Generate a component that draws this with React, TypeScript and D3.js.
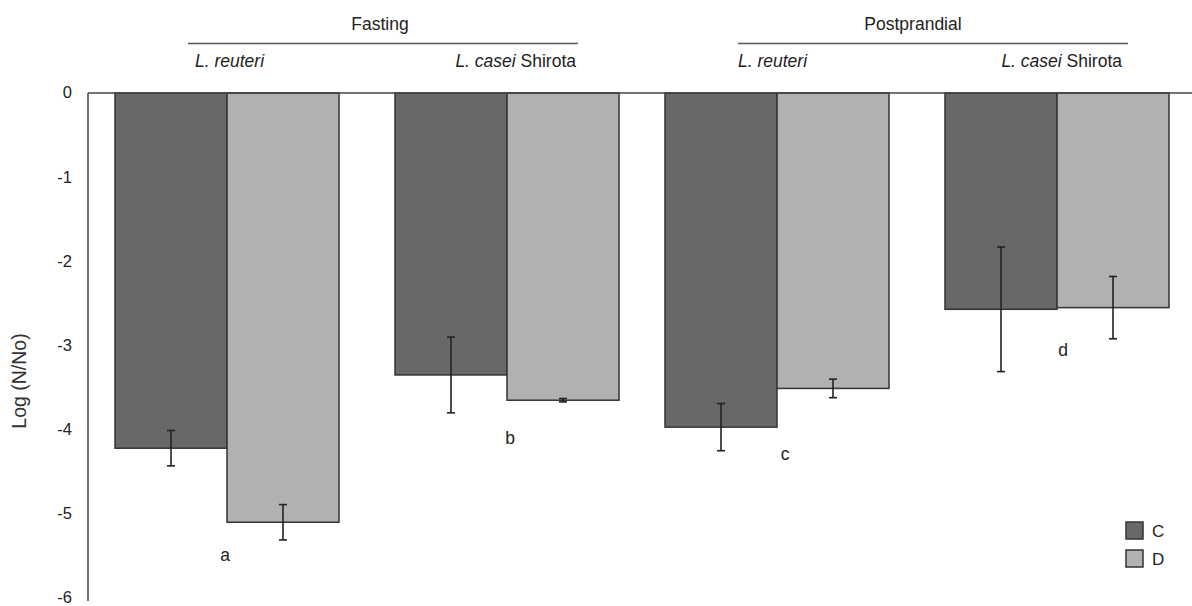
import React from "react";
import * as d3 from "d3";

const periods = ["Fasting", "Postprandial"];
const strains = ["L. reuteri", "L. casei Shirota"];
const seriesNames = ["C", "D"];
// order: Fasting-reuteri, Fasting-casei, Postprandial-reuteri, Postprandial-casei
const valuesC = [-4.22, -3.35, -3.97, -2.57];
const valuesD = [-5.1, -3.65, -3.51, -2.55];
const errC = [0.21, 0.45, 0.28, 0.74];
const errD = [0.21, 0.02, 0.11, 0.37];
const letters = ["a", "b", "c", "d"];
const letterY = [-5.49, -4.09, -4.29, -3.05];
const yTicks = [0, -1, -2, -3, -4, -5, -6];

const W = 1192;
const H = 606;
const colors = ["#686868", "#b1b1b1"];
const stroke = "#333";
const font = "'Liberation Sans', Arial, sans-serif";

export default function App() {
  const x0 = 88;
  const yTop = 93;
  const y = d3.scaleLinear().domain([0, -6]).range([yTop, 598]);
  const xp = d3.scaleBand<string>().domain(periods).range([x0, 1196]).paddingInner(46 / 550).paddingOuter(27 / 550);
  const xg = d3.scaleBand<string>().domain(strains).range([0, xp.bandwidth()]).paddingInner(0.2).paddingOuter(0);
  const xs = d3.scaleBand<string>().domain(seriesNames).range([0, xg.bandwidth()]);
  const series = [
    { name: "C", vals: valuesC, errs: errC },
    { name: "D", vals: valuesD, errs: errD },
  ];
  const cats: { p: string; s: string; i: number; x: number }[] = [];
  periods.forEach((p, pi) =>
    strains.forEach((s, si) => {
      cats.push({ p, s, i: pi * 2 + si, x: (xp(p) as number) + (xg(s) as number) });
    })
  );
  const headerDx = [-3, -20];
  const letterDx = [-2, 3, 8, 6];
  const subLeftDx = [80, 73];
  const subRightDx = [43, 47];
  return (
    <svg width={W} height={H} style={{ position: "absolute", left: 0, top: 0, background: "#fff" }} fontFamily={font}>
      <rect x={0} y={0} width={W} height={H} fill="#fff" />
      {series.map((s, si) =>
        cats.map((c) => {
          const bx = c.x + (xs(s.name) as number);
          return (
            <rect key={s.name + c.i} x={bx} y={y(0)} width={xs.bandwidth()} height={y(s.vals[c.i]) - y(0)}
              fill={colors[si]} stroke={stroke} strokeWidth={1.5} />
          );
        })
      )}
      {series.map((s) =>
        cats.map((c) => {
          const cx = c.x + (xs(s.name) as number) + xs.bandwidth() / 2;
          const y1 = y(s.vals[c.i] + s.errs[c.i]);
          const y2 = y(s.vals[c.i] - s.errs[c.i]);
          return (
            <g key={"e" + s.name + c.i} stroke="#222" strokeWidth={1.6}>
              <line x1={cx} x2={cx} y1={y1} y2={y2} />
              <line x1={cx - 4} x2={cx + 4} y1={y1} y2={y1} />
              <line x1={cx - 4} x2={cx + 4} y1={y2} y2={y2} />
            </g>
          );
        })
      )}
      <line x1={x0} x2={W} y1={yTop} y2={yTop} stroke="#444" strokeWidth={1.5} />
      <line x1={x0} x2={x0} y1={yTop} y2={601} stroke="#444" strokeWidth={1.5} />
      {yTicks.map((t) => (
        <text key={t} x={72} y={y(t)} dy="0.33em" textAnchor="end" fontSize={16.5} fill="#222">
          {t}
        </text>
      ))}
      <text transform={`translate(26,${381}) rotate(-90)`} textAnchor="middle" fontSize={19.5} fill="#333">
        Log (N/No)
      </text>
      {cats.map((c) => (
        <text key={"l" + c.i} x={c.x + xg.bandwidth() / 2 + letterDx[c.i]} y={y(letterY[c.i])} dy="0.36em" textAnchor="middle" fontSize={17.5} fill="#222">
          {letters[c.i]}
        </text>
      ))}
      {periods.map((p, pi) => {
        const a = xp(p) as number;
        const b = a + xp.bandwidth();
        const l1 = a + 73;
        const l2 = b - 41;
        return (
          <g key={p}>
            <line x1={l1} x2={l2} y1={43.5} y2={43.5} stroke="#555" strokeWidth={1.6} />
            <text x={(l1 + l2) / 2 + headerDx[pi]} y={30} textAnchor="middle" fontSize={17.5} fill="#222">
              {p}
            </text>
          </g>
        );
      })}
      {cats.map((c) => {
        const pi = periods.indexOf(c.p);
        return c.s === strains[0] ? (
          <text key={"s" + c.i} x={c.x + subLeftDx[pi]} y={67} fontSize={17.5} fill="#222" fontStyle="italic">
            {c.s}
          </text>
        ) : (
          <text key={"s" + c.i} x={c.x + xg.bandwidth() - subRightDx[pi]} y={67} fontSize={17.5} fill="#222" textAnchor="end">
            <tspan fontStyle="italic">L. casei</tspan> Shirota
          </text>
        );
      })}
      {seriesNames.map((n, i) => (
        <g key={"lg" + n} transform={`translate(1126,${522 + i * 28})`}>
          <rect x={0} y={0} width={17} height={17} fill={colors[i]} stroke={stroke} strokeWidth={1.5} />
          <text x={26} y={8.5} dy="0.36em" fontSize={17} fill="#222">
            {n}
          </text>
        </g>
      ))}
    </svg>
  );
}
